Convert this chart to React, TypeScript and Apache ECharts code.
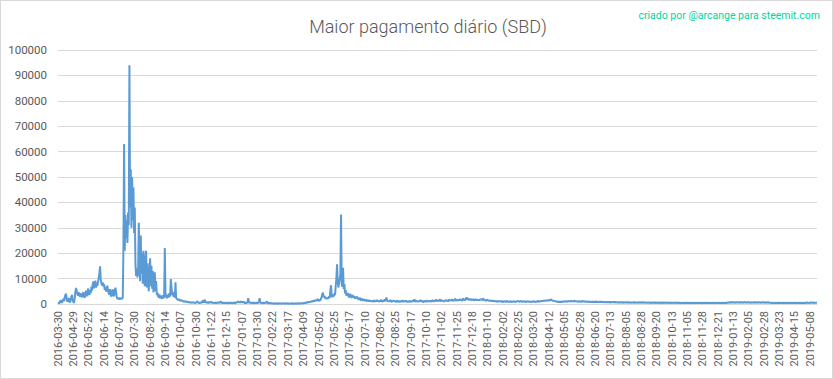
import React, { useEffect, useRef } from "react";
import * as echarts from "echarts";

const TITLE = "Maior pagamento diário (SBD)";
const CREDIT = "criado por @arcange para steemit.com";

// first category, then daily dates from 2016-04-07 to 2019-05-18
const FIRST_DATE = "2016-03-30";
const DAILY_START = [2016, 3, 7];
const DAILY_COUNT = 1137;

// Highest daily payout (SBD)
const early2016 = [
  600, 400, 300, 900, 1500, 800, 500, 1200, 2000, 1100,
  2600, 3500, 4100, 1800, 900, 1300, 2400, 1000, 600, 1700,
  2900, 3600, 1400, 800, 500, 2200, 4800, 6300, 5200, 4100,
  3300, 4600, 3800, 2900, 4200, 3500, 2600, 3900, 4700, 3100,
  2400, 3800, 5200, 4400, 3000, 6100, 4900, 3600, 5500, 4200,
  6800, 5300, 7900, 8900, 6200, 7400, 9200, 6500, 8300, 7100,
  8800, 10200, 12100, 14800, 9600, 8100, 7300, 8500, 6900, 7800,
  5600, 6700, 4900, 6200, 7200, 5100, 4300, 3600, 5900, 3800,
  2900, 4600, 5800, 3400, 3100, 5300, 6400, 4700, 2600, 2200,
  2000, 2500, 1800, 2100, 2300, 1900, 2200, 2400, 22000, 63000,
];
const peak2016 = [
  21000, 35000, 26000, 33000, 24000, 36000, 31000, 94000, 38000, 53000,
  30000, 50000, 33000, 46000, 28000, 38000, 16000, 11000, 14000, 10500,
  12000, 32000, 22000, 9000, 27000, 12000, 20000, 8000, 21000, 11000,
  7000, 18000, 21000, 6500, 16000, 9000, 5000, 13000, 18000, 7000,
  15000, 6000, 13000, 4500, 11000, 12500, 5000, 9000, 3500, 4500,
  3000, 2500, 3800, 2200, 3100, 2700, 2000, 3500, 2400, 2800,
  22000, 4500, 3000, 2200, 3600, 2500, 4200, 2800, 3400, 9800,
  9800, 3500, 4800, 2900, 3300, 2600, 8500, 2400, 2000, 1800,
  1600, 1900, 1500, 1300, 1700, 1200, 1400, 1100, 1000, 1200,
  900, 1100, 800, 1000, 700, 900, 600, 800, 500, 700,
];
const late2016 = [
  600, 400, 800, 500, 700, 300, 600, 500, 900, 1100,
  400, 600, 300, 500, 700, 400, 800, 1500, 600, 1200,
  1700, 500, 900, 400, 600, 800, 300, 900, 500, 1000,
  600, 400, 700, 300, 500, 400, 600, 300, 500, 700,
  400, 600, 500, 800, 1000, 500, 300, 600, 400, 500,
  300, 500, 400, 600, 300, 400, 500, 300, 600, 400,
  500, 300, 400, 600, 500, 300, 400, 700, 500, 900,
  1000, 600, 800, 500, 1100, 700, 900, 600, 1000, 500,
  400, 600, 300, 500, 800, 2300, 700, 400, 600, 500,
  300, 500, 400, 600, 300, 400, 500, 300, 600, 400,
  500, 700, 2300, 600, 400, 500, 300, 400, 600, 300,
  500, 400, 800, 1000, 400, 300, 500, 200, 400, 300,
  200, 300, 100, 200, 300, 100, 200, 150, 300, 100,
  200, 100, 300, 200, 100, 250, 150, 100, 200, 300,
  100, 200, 150, 300, 100, 200, 100, 150, 250, 100,
  200, 300, 100, 200, 150, 100, 300, 200, 100, 200,
  150, 300, 200, 100, 250, 200, 300, 150, 400, 300,
  500, 400, 600, 500, 800, 700, 900, 600, 1000, 800,
  1200, 900, 1100, 1400, 1000, 1300, 1600, 1200, 1500, 1900,
];
const spike2017 = [
  1500, 1100, 1800, 1300, 2200, 2800, 3900, 4500, 2600, 3100,
  2200, 2700, 1900, 2500, 2100, 2400, 3000, 2300, 5200, 7400,
  3200, 2600, 3800, 2900, 4100, 3500, 7000, 10000, 15600, 9100,
  6500, 8200, 9600, 12000, 35200, 8000, 6800, 14300, 5900, 7800,
  4200, 5500, 3300, 3900, 4300, 3100, 2600, 3500, 4000, 2800,
  2400, 3600, 3000, 2500, 3200, 2100, 2700, 2300, 3000, 1900,
  2200, 1600, 2500, 1800, 1400, 2100, 1700, 1300, 1900, 1500,
  1200, 1700, 1400, 1000, 1600, 1300, 1100, 1500, 900, 1200,
];
const mid2017 = [
  1000, 1400, 800, 1200, 1500, 900, 1300, 1100, 1600, 1000,
  1200, 800, 1400, 1000, 1700, 1100, 900, 1300, 1500, 1000,
  1800, 1200, 2600, 1400, 1000, 1300, 900, 1200, 1600, 1100,
  800, 1300, 1000, 1500, 900, 1200, 700, 1100, 1400, 800,
  1000, 1200, 700, 1300, 900, 1100, 1500, 800, 1000, 1200,
  900, 1400, 1000, 800, 1200, 700, 1100, 1300, 900, 1000,
  1200, 800, 1500, 1000, 1800, 1100, 900, 1400, 1000, 1200,
  800, 1300, 1000, 1600, 900, 1200, 1100, 700, 1000, 1300,
  900, 1100, 1500, 800, 1200, 1000, 1400, 900, 1300, 1100,
  1000, 1600, 1200, 900, 1400, 1100, 1800, 1000, 1300, 1200,
  1500, 1100, 1900, 1300, 1000, 1600, 1200, 1400, 900, 1300,
  1100, 1700, 1200, 1500, 1000, 1400, 1800, 1200, 1600, 1300,
  1900, 1400, 1200, 1700, 1300, 2100, 1500, 1200, 1800, 1400,
  1600, 1300, 2000, 1500, 1800, 1200, 1700, 2200, 1500, 1900,
  1400, 2000, 2600, 1700, 2300, 1500, 1900, 1600, 2100, 1400,
  1800, 1500, 2000, 1300, 1700, 1600, 1900, 1400, 1800, 1500,
  1700, 1300, 1900, 1600, 2000, 1500, 1800, 2200, 1600, 1400,
  1700, 1200, 1500, 1800, 1300, 1600, 1100, 1400, 1200, 1500,
  1000, 1300, 1100, 1400, 900, 1200, 1000, 1300, 800, 1100,
  1000, 1200, 900, 1300, 800, 1100, 1000, 700, 1200, 900,
  1100, 800, 1000, 1300, 900, 1100, 700, 1000, 1200, 800,
  900, 1100, 800, 1200, 1000, 700, 1100, 900, 1300, 1000,
  1200, 800, 1000, 1300, 900, 1100, 800, 1200, 1000, 900,
];
const y2018 = [
  1100, 700, 1000, 1200, 800, 1000, 900, 1100, 700, 1000,
  800, 1100, 900, 1200, 700, 1000, 800, 1100, 900, 1300,
  1000, 800, 1200, 900, 1400, 1000, 1300, 1100, 1500, 1200,
  1400, 1100, 1600, 1300, 1500, 1200, 1700, 1400, 1600, 1900,
  1300, 1500, 1100, 1400, 1000, 1200, 900, 1100, 800, 1000,
  700, 900, 800, 1000, 700, 900, 1100, 800, 1000, 900,
  1200, 900, 1100, 800, 1300, 1000, 1200, 900, 1100, 1300,
  1000, 1200, 900, 1100, 1400, 1000, 1200, 900, 1100, 800,
  1000, 1200, 900, 1100, 800, 1000, 1300, 900, 1100, 1000,
  800, 1000, 900, 1100, 700, 900, 1000, 800, 900, 700,
  900, 800, 1000, 700, 900, 800, 1100, 700, 900, 800,
  700, 900, 800, 1000, 700, 800, 900, 700, 800, 600,
  800, 700, 900, 600, 800, 700, 900, 600, 700, 800,
  600, 800, 700, 900, 600, 700, 800, 600, 700, 500,
  700, 600, 800, 500, 700, 600, 800, 500, 600, 700,
  500, 700, 600, 800, 500, 600, 700, 500, 600, 500,
  700, 500, 600, 800, 500, 600, 500, 700, 500, 600,
  500, 700, 600, 500, 600, 800, 500, 600, 500, 700,
  500, 600, 400, 600, 500, 700, 500, 400, 600, 500,
  400, 600, 500, 700, 400, 500, 600, 400, 500, 600,
  400, 500, 600, 400, 500, 700, 400, 500, 400, 600,
  500, 400, 600, 500, 400, 500, 600, 400, 500, 400,
  600, 400, 500, 400, 600, 500, 400, 500, 600, 400,
  400, 500, 400, 450, 400, 500, 400, 450, 400, 500,
];
const y2019 = [
  450, 400, 500, 450, 400, 450, 500, 400, 450, 400,
  450, 500, 400, 450, 400, 500, 450, 400, 450, 500,
  400, 450, 400, 500, 450, 400, 450, 400, 500, 450,
  400, 450, 500, 400, 450, 400, 450, 500, 400, 450,
  400, 500, 450, 400, 450, 400, 500, 450, 400, 450,
  500, 400, 450, 400, 450, 500, 400, 450, 400, 500,
  450, 400, 500, 450, 600, 500, 700, 600, 500, 800,
  600, 700, 500, 800, 600, 500, 700, 600, 800, 500,
  700, 600, 500, 800, 600, 700, 500, 600, 800, 700,
  500, 600, 700, 500, 800, 600, 500, 700, 600, 500,
  700, 500, 600, 800, 500, 600, 700, 500, 600, 800,
  500, 700, 600, 500, 600, 700, 500, 800, 600, 500,
  600, 700, 500, 600, 800, 500, 450, 500, 450, 400,
  450, 500, 400, 450, 400, 500, 450, 400, 450, 500,
  400, 450, 500, 400, 450, 400, 500, 450, 400, 450,
  500, 400, 450, 400, 500, 450, 400, 450, 500, 400,
  450, 400, 500, 450, 400, 450, 500, 400, 450, 400,
  500, 450, 400, 450, 500, 400, 450, 400, 500, 450,
  400, 450, 600, 500, 450, 400, 500, 450, 600, 500,
  450, 600, 500, 400, 550, 450, 500, 600,
];

const values = [...early2016, ...peak2016, ...late2016, ...spike2017, ...mid2017, ...y2018, ...y2019];

const categories: string[] = [FIRST_DATE];
for (let i = 0; i < DAILY_COUNT; i++) {
  const d = new Date(Date.UTC(DAILY_START[0], DAILY_START[1], DAILY_START[2]) + i * 86400000);
  categories.push(d.toISOString().slice(0, 10));
}

const FONT = "Roboto, 'Noto Sans', sans-serif";

export default function App() {
  const ref = useRef<HTMLDivElement>(null);
  useEffect(() => {
    document.body.style.margin = "0";
    const chart = echarts.init(ref.current!, undefined, { renderer: "svg" });
    chart.setOption({
      animation: false,
      backgroundColor: "#ffffff",
      grid: { left: 57, right: 15, top: 49, bottom: 74, containLabel: false },
      graphic: [
        {
          type: "text",
          x: 427,
          y: 25,
          style: {
            text: TITLE,
            fill: "#595959",
            font: `300 18px ${FONT}`,
            textAlign: "center",
            textVerticalAlign: "middle",
          },
        },
        {
          type: "text",
          x: 819,
          y: 14,
          style: {
            text: CREDIT,
            fill: "#00d4a0",
            font: `10.5px ${FONT}`,
            textAlign: "right",
            textVerticalAlign: "middle",
          },
        },
      ],
      xAxis: {
        type: "category",
        data: categories,
        boundaryGap: false,
        axisLine: { show: true, lineStyle: { color: "#d9d9d9", width: 1 } },
        axisTick: { show: false },
        axisLabel: {
          interval: 22,
          rotate: 90,
          margin: 7,
          color: "#595959",
          fontSize: 11,
          fontFamily: FONT,
        },
        splitLine: { show: false },
      },
      yAxis: {
        type: "value",
        min: 0,
        max: 100000,
        interval: 10000,
        axisLine: { show: false },
        axisTick: { show: false },
        axisLabel: {
          margin: 11,
          color: "#595959",
          fontSize: 11.5,
          fontFamily: FONT,
          formatter: (v: number) => String(v),
        },
        splitLine: { lineStyle: { color: "#d9d9d9", width: 1 } },
      },
      series: [
        {
          type: "line",
          data: values.slice(0, categories.length),
          showSymbol: false,
          symbol: "none",
          lineStyle: { color: "#5b9bd5", width: 2 },
          itemStyle: { color: "#5b9bd5" },
        },
      ],
    });
    return () => chart.dispose();
  }, []);
  return (
    <div
      ref={ref}
      style={{
        position: "absolute",
        left: 0,
        top: 0,
        width: 833,
        height: 379,
        boxSizing: "border-box",
        border: "1px solid #d9d9d9",
      }}
    />
  );
}
